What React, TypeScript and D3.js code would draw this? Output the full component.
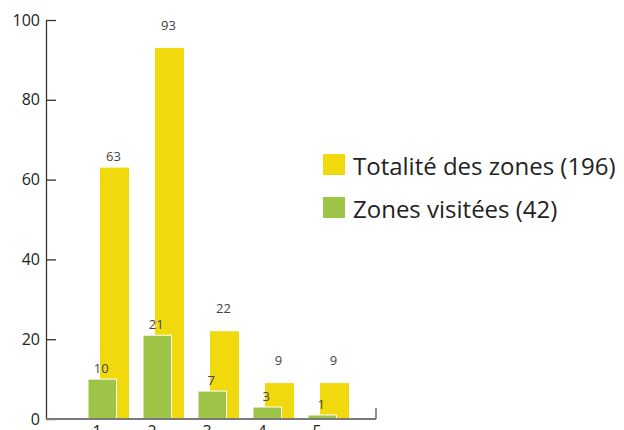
import { useEffect, useRef } from 'react';
import * as d3 from 'd3';

const categories = ['1', '2', '3', '4', '5'];
const totalZones = [63, 93, 22, 9, 9];
const visitedZones = [10, 21, 7, 3, 1];
const yTicks = [0, 20, 40, 60, 80, 100];
const legendLabels = ['Totalité des zones (196)', 'Zones visitées (42)'];

const YELLOW = '#f0da0e';
const GREEN = '#9dc447';
const FONT = '"Open Sans", "Noto Sans", sans-serif';

// the yellow value labels don't all sit at the same height in the original
const totalLabelGap = [11, 22, 22, 22, 22];

const App = () => {
  const svgRef = useRef<SVGSVGElement>(null);

  useEffect(() => {
    const svg = d3.select(svgRef.current);
    svg.selectAll('*').remove();

    const width = 624;
    const height = 430;
    svg.attr('width', width).attr('height', height);

    // Scales
    const y = d3.scaleLinear().domain([0, 100]).range([419, 20]);
    const x = d3.scaleBand().domain(categories).range([88, 363]).paddingInner(0);

    const greenW = 28.5;
    const yellowOff = 12;
    const yellowW = 29;

    // Yellow bars (behind)
    svg.append('g')
      .selectAll('rect')
      .data(totalZones)
      .enter()
      .append('rect')
      .attr('x', (d, i) => x(categories[i])! + yellowOff)
      .attr('y', d => y(d))
      .attr('width', yellowW)
      .attr('height', d => y(0) - y(d))
      .attr('fill', YELLOW);

    // Green bars (front, white edge)
    svg.append('g')
      .selectAll('rect')
      .data(visitedZones)
      .enter()
      .append('rect')
      .attr('x', (d, i) => x(categories[i])!)
      .attr('y', d => y(d))
      .attr('width', greenW)
      .attr('height', d => y(0) - y(d))
      .attr('fill', GREEN)
      .attr('stroke', '#ffffff')
      .attr('stroke-width', 1);

    // Value labels
    svg.append('g')
      .selectAll('text')
      .data(totalZones)
      .enter()
      .append('text')
      .attr('x', (d, i) => x(categories[i])! + yellowOff + yellowW / 2 - 1)
      .attr('y', (d, i) => y(d) - totalLabelGap[i] + 4)
      .attr('text-anchor', 'middle')
      .attr('font-family', FONT)
      .attr('font-size', 13)
      .attr('fill', '#444')
      .text(d => d);

    svg.append('g')
      .selectAll('text')
      .data(visitedZones)
      .enter()
      .append('text')
      .attr('x', (d, i) => x(categories[i])! + greenW / 2 - 1)
      .attr('y', d => y(d) - 6)
      .attr('text-anchor', 'middle')
      .attr('font-family', FONT)
      .attr('font-size', 13)
      .attr('fill', '#444')
      .text(d => d);

    // Y axis
    const yAxis = svg.append('g')
      .attr('transform', 'translate(46,0)')
      .call(d3.axisLeft(y).tickValues(yTicks).tickSizeInner(-10).tickSizeOuter(0).tickPadding(6));
    yAxis.select('.domain').attr('stroke', '#333').attr('stroke-width', 1.3);
    yAxis.selectAll('.tick line').attr('stroke', '#333').attr('stroke-width', 1.3);
    yAxis.selectAll('.tick text')
      .attr('font-family', FONT)
      .attr('font-size', 16)
      .attr('fill', '#222');

    // X axis
    const xAxis = svg.append('g').attr('transform', `translate(0,${y(0)})`);
    xAxis.append('line')
      .attr('x1', 46).attr('x2', 376)
      .attr('stroke', '#7a7a7a').attr('stroke-width', 2);
    xAxis.append('line')
      .attr('x1', 376).attr('x2', 376).attr('y1', 0).attr('y2', -11)
      .attr('stroke', '#555').attr('stroke-width', 1.3);
    xAxis.selectAll('text.cat')
      .data(categories)
      .enter()
      .append('text')
      .attr('class', 'cat')
      .attr('x', d => x(d)! + 9)
      .attr('y', 18)
      .attr('text-anchor', 'middle')
      .attr('font-family', FONT)
      .attr('font-size', 16)
      .attr('fill', '#222')
      .text(d => d);

    // Legend
    const legend = svg.append('g').attr('transform', 'translate(323,154)');
    const colors = [YELLOW, GREEN];
    legendLabels.forEach((label, i) => {
      const g = legend.append('g').attr('transform', `translate(0,${i * 43})`);
      g.append('rect').attr('width', 22).attr('height', 21).attr('fill', colors[i]);
      g.append('text')
        .attr('x', 30)
        .attr('y', 21)
        .attr('font-family', FONT)
        .attr('font-size', 24)
        .attr('fill', '#222')
        .text(label);
    });
  }, []);

  return <svg ref={svgRef} style={{ position: 'absolute', left: 0, top: 0 }}></svg>;
};

export default App;
